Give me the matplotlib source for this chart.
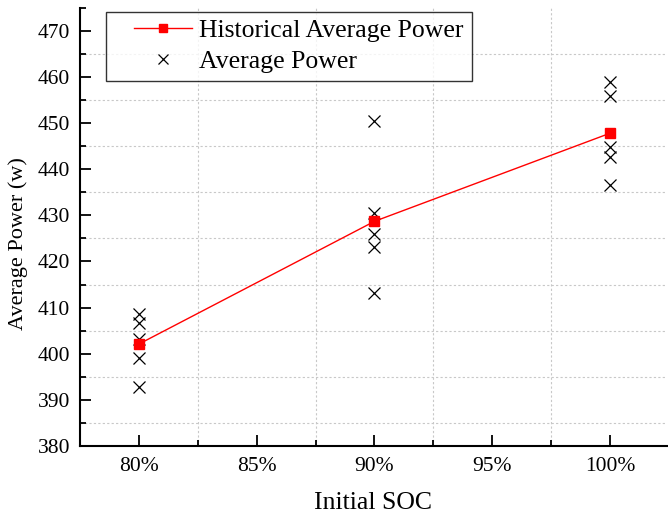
import matplotlib.pyplot as plt
from matplotlib.legend_handler import HandlerLine2D
from matplotlib.ticker import FixedLocator, MultipleLocator

plt.rcParams["font.family"] = ["Liberation Serif", "DejaVu Serif"]

soc_levels = [80, 90, 100]
avg_power_80 = [408.6, 406.7, 403.2, 399.1, 392.8]
avg_power_90 = [450.5, 430.5, 426.0, 423.1, 413.2]
avg_power_100 = [458.8, 455.9, 444.8, 442.6, 436.6]
runs = [avg_power_80, avg_power_90, avg_power_100]
historical_avg = [402.1, 428.7, 447.8]


class ShiftedHandler(HandlerLine2D):
  """Legend handle drawn in the right part of its slot."""

  def create_artists(self, legend, orig_handle, xdescent, ydescent, width,
                     height, fontsize, trans):
    shift = 0.26 * width
    return super().create_artists(legend, orig_handle, xdescent - shift,
                                  ydescent, width - shift, height, fontsize,
                                  trans)


fig = plt.figure(figsize=(6.68, 5.18), dpi=100)
ax = fig.add_axes([0.1198, 0.139, 0.878, 0.846])

# grid sits on the minor (half-step) positions
for gx in [82.5, 87.5, 92.5, 97.5]:
  ax.axvline(gx, color="#c8c8c8", lw=0.8, ls=(0, (2, 2)), zorder=0)
for gy in range(385, 475, 10):
  ax.axhline(gy, color="#c8c8c8", lw=0.8, ls=(0, (2, 2)), zorder=0)

hist_line, = ax.plot(soc_levels, historical_avg, color="red", lw=1.0,
                     marker="s", markersize=7.2, zorder=3)
cross = None
for soc, values in zip(soc_levels, runs):
  cross, = ax.plot([soc] * len(values), values, ls="none", marker="x",
                   color="black", markersize=9, markeredgewidth=0.9, zorder=2)

ax.set_xlim(77.5, 102.4)
ax.set_ylim(380, 475)
ax.xaxis.set_major_locator(FixedLocator([80, 85, 90, 95, 100]))
ax.xaxis.set_minor_locator(FixedLocator([82.5, 87.5, 92.5, 97.5]))
ax.set_xticklabels(["80%", "85%", "90%", "95%", "100%"])
ax.yaxis.set_major_locator(FixedLocator(range(380, 471, 10)))
ax.yaxis.set_minor_locator(MultipleLocator(5))

ax.tick_params(which="major", direction="in", length=8, width=1.3,
               labelsize=15.5, pad=7)
ax.tick_params(which="minor", direction="in", length=4, width=1.3)
ax.tick_params(axis="x", which="major", pad=8)

for side in ["top", "right"]:
  ax.spines[side].set_visible(False)
for side in ["left", "bottom"]:
  ax.spines[side].set_linewidth(1.5)

ax.set_xlabel("Initial SOC", fontsize=18.5)
ax.xaxis.set_label_coords(0.5, -0.104)
ax.set_ylabel("Average Power (w)", fontsize=16)
ax.yaxis.set_label_coords(-0.089, 0.463)

leg = ax.legend([hist_line, cross], ["Historical Average Power", "Average Power"],
                handler_map={hist_line: ShiftedHandler(),
                             cross: ShiftedHandler()},
                loc="upper left", bbox_to_anchor=(0.044, 0.991),
                fontsize=18.5, frameon=True, fancybox=False,
                edgecolor="black", handlelength=3.04, borderpad=0.3,
                labelspacing=0.29, handletextpad=0.3, borderaxespad=0,
                markerscale=0.85)
leg.get_frame().set_linewidth(1.0)

fig.savefig("out.png", dpi=100)
